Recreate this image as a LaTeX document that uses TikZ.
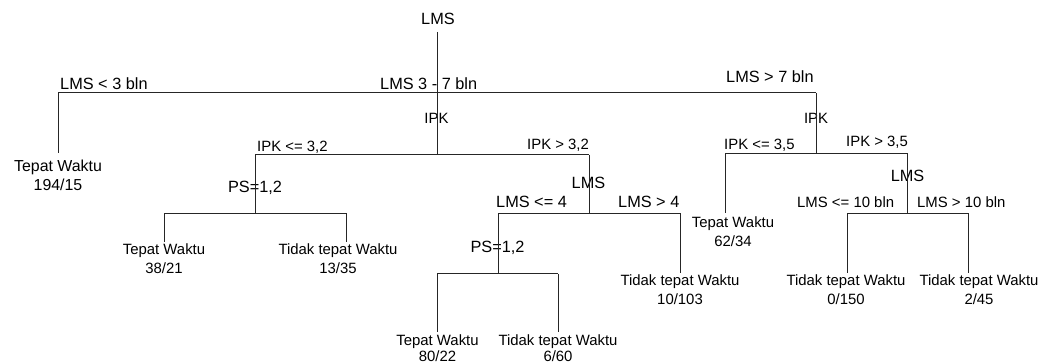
\documentclass[tikz,border=0pt]{standalone}
\usepackage{fontspec}
\setmainfont{Liberation Sans}
\begin{document}
\begin{tikzpicture}[x=1pt,y=-1pt,
  big/.style={font=\fontsize{16.3}{19.5}\selectfont, inner sep=0pt},
  small/.style={font=\fontsize{14.9}{18.2}\selectfont, inner sep=0pt},
  leaf/.style={small, align=center, anchor=north},
  br/.style={line width=1pt, draw=black!85}]
\useasboundingbox (0,0) rectangle (1042,363);

% split coordinates
\coordinate (r0) at (437,32);
\coordinate (j1) at (437,93);
\coordinate (j1L) at (58,93);
\coordinate (j1R) at (816,93);
\coordinate (j2) at (437,155);
\coordinate (j2L) at (255,155);
\coordinate (j2R) at (589,155);
\coordinate (j3) at (255,213.5);
\coordinate (j3L) at (164,213.5);
\coordinate (j3R) at (346,213.5);
\coordinate (j4) at (589,213.5);
\coordinate (j4L) at (498,213.5);
\coordinate (j4R) at (680,213.5);
\coordinate (j5) at (498,274);
\coordinate (j5L) at (437,274);
\coordinate (j5R) at (558,274);
\coordinate (j6) at (816,153.5);
\coordinate (j6L) at (725,153.5);
\coordinate (j6R) at (907,153.5);
\coordinate (j7) at (907,213.5);
\coordinate (j7L) at (847,213.5);
\coordinate (j7R) at (968,213.5);

% node labels
\node[big,anchor=base] (root) at (438,25) {LMS};
\node[big,anchor=base west] (c1) at (60,89.5) {LMS < 3 bln};
\node[big,anchor=base west] (c2) at (380,89.5) {LMS 3 - 7 bln};
\node[big,anchor=base west] (c3) at (726,83) {LMS > 7 bln};
\node[small,anchor=base] (ipk1) at (436.5,124) {IPK};
\node[small,anchor=base] (ipk2) at (816,124) {IPK};
\node[small,anchor=base west] (c4) at (257,152) {IPK <= 3,2};
\node[small,anchor=base west] (c5) at (527,149.5) {IPK > 3,2};
\node[small,anchor=base west] (c6) at (724,150) {IPK <= 3,5};
\node[small,anchor=base west] (c7) at (846,146.7) {IPK > 3,5};
\node[big,anchor=base] (ps1) at (255,193) {PS=1,2};
\node[big,anchor=base] (lms2) at (588.5,188.3) {LMS};
\node[big,anchor=base] (lms3) at (907.5,181.7) {LMS};
\node[big,anchor=base west] (c8) at (496,208) {LMS <= 4};
\node[big,anchor=base west] (c9) at (618,208) {LMS > 4};
\node[big,anchor=base] (ps2) at (497.5,252.7) {PS=1,2};
\node[small,anchor=base west] (c10) at (797,207.3) {LMS <= 10 bln};
\node[small,anchor=base west] (c11) at (917,207.3) {LMS > 10 bln};

% leaves
\node[leaf,font=\fontsize{15.9}{19.5}\selectfont] (L1) at (58,159.5) {Tepat Waktu\\194/15};
\node[leaf] (L2) at (164,244) {Tepat Waktu\\38/21};
\node[leaf] (L3) at (338,244) {Tidak tepat Waktu\\13/35};
\node[leaf,font=\fontsize{14.9}{15.6}\selectfont] (L4) at (437.5,334.5) {Tepat Waktu\\80/22};
\node[leaf,font=\fontsize{14.9}{15.6}\selectfont] (L5) at (558,334.5) {Tidak tepat Waktu\\6/60};
\node[leaf] (L6) at (680,275) {Tidak tepat Waktu\\10/103};
\node[leaf] (L7) at (733,217) {Tepat Waktu\\62/34};
\node[leaf] (L8) at (846,275) {Tidak tepat Waktu\\0/150};
\node[leaf] (L9) at (979,275) {Tidak tepat Waktu\\2/45};

% branches
\draw[br] (r0) -- (j2);
\draw[br] (j1L) -- (j1R);
\draw[br,shorten >=6.5pt] (j1L) -- (j1L |- L1.north);
\draw[br] (j1R) -- (j6);
\draw[br] (j2L) -- (j2R);
\draw[br] (j2L) -- (j3);
\draw[br] (j3L) -- (j3R);
\draw[br,shorten >=2pt] (j3L) -- (j3L |- L2.north);
\draw[br,shorten >=2pt] (j3R) -- (j3R |- L3.north);
\draw[br] (j2R) -- (j4);
\draw[br] (j4L) -- (j4R);
\draw[br] (j4L) -- (j5);
\draw[br] (j5L) -- (j5R);
\draw[br,shorten >=2pt] (j5L) -- (j5L |- L4.north);
\draw[br,shorten >=2pt] (j5R) -- (j5R |- L5.north);
\draw[br,shorten >=1.5pt] (j4R) -- (j4R |- L6.north);
\draw[br] (j6L) -- (j6R);
\draw[br,shorten >=3.5pt] (j6L) -- (j6L |- L7.north);
\draw[br] (j6R) -- (j7);
\draw[br] (j7L) -- (j7R);
\draw[br,shorten >=2pt] (j7L) -- (j7L |- L8.north);
\draw[br,shorten >=2pt] (j7R) -- (j7R |- L9.north);
\end{tikzpicture}
\end{document}
